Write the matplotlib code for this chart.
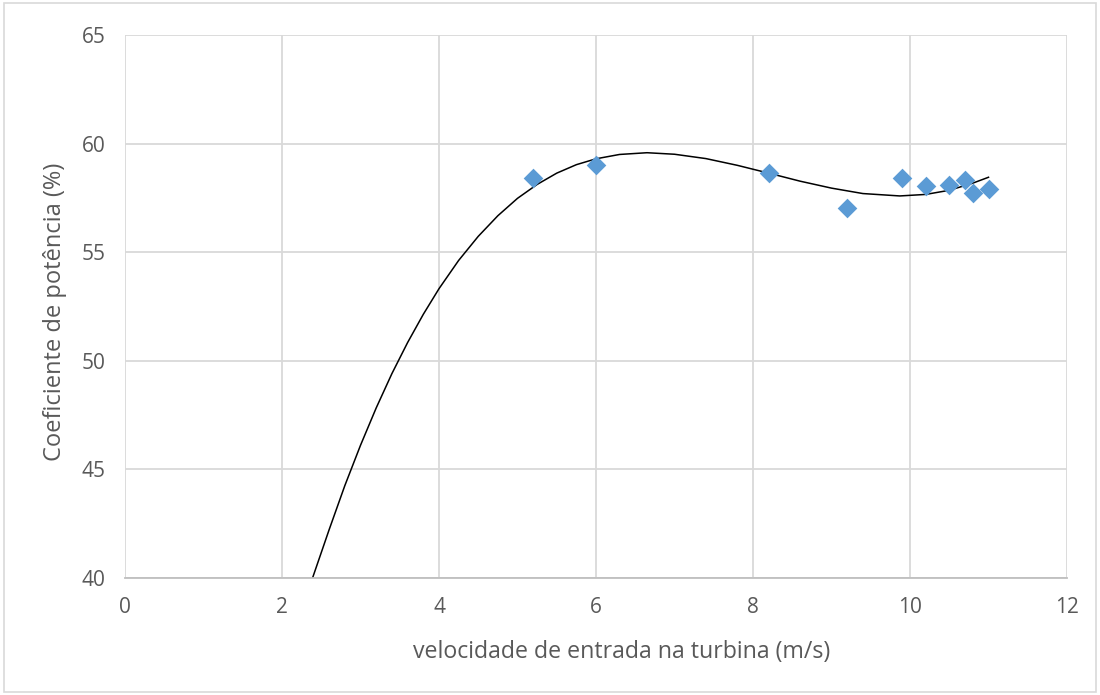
import matplotlib.pyplot as plt

# Dados
velocidade = [5.2, 6.0, 8.2, 9.2, 9.9, 10.2, 10.5, 10.7, 10.8, 11.0]
coef_potencia = [58.4, 59.0, 58.65, 57.03, 58.42, 58.05, 58.1, 58.32, 57.73, 57.9]

# Linha de tendência (polinomial do Excel), pontos lidos ao longo da curva
tend_x = [2.37, 2.6, 2.8, 3.0, 3.2, 3.4, 3.6, 3.8, 4.0, 4.25, 4.5, 4.75, 5.0,
          5.25, 5.5, 5.75, 6.0, 6.3, 6.65, 7.0, 7.4, 7.8, 8.2, 8.6, 9.0,
          9.4, 9.87, 10.2, 10.5, 10.8, 11.0]
tend_y = [39.8, 42.22, 44.25, 46.11, 47.83, 49.41, 50.84, 52.14, 53.32, 54.62, 55.73, 56.68, 57.48,
          58.12, 58.64, 59.03, 59.30, 59.50, 59.58, 59.51, 59.31, 59.00, 58.64, 58.27, 57.95,
          57.70, 57.59, 57.66, 57.85, 58.18, 58.45]

x_ticks = [0, 2, 4, 6, 8, 10, 12]
y_ticks = [40, 45, 50, 55, 60, 65]

plt.rcParams['font.family'] = ['Open Sans', 'DejaVu Sans']
cor_texto = '#595959'

fig = plt.figure(figsize=(11, 6.95), dpi=100)
ax = fig.add_axes([125 / 1100, 1 - 578 / 695, (1067 - 125) / 1100, (578 - 35) / 695])

ax.plot(tend_x, tend_y, color='black', lw=1.1, zorder=2)
ax.scatter(velocidade, coef_potencia, marker='D', s=100, color='#5B9BD5',
           linewidths=0, zorder=3)

ax.set_xlim(0, 12)
ax.set_ylim(40, 65)
ax.set_xticks(x_ticks)
ax.set_yticks(y_ticks)
ax.grid(True, color='#D9D9D9', lw=1.3)
ax.set_axisbelow(True)
for lado in ['top', 'right', 'left']:
    ax.spines[lado].set_visible(False)
ax.spines['bottom'].set_color('#BFBFBF')
ax.spines['bottom'].set_linewidth(1.3)
ax.tick_params(length=0, labelsize=15, colors=cor_texto, pad=14)

ax.set_xlabel('velocidade de entrada na turbina (m/s)', fontsize=16.7, color=cor_texto,
              va='center', ha='center')
ax.xaxis.set_label_coords(0.527, -0.136)
ax.set_ylabel('Coeficiente de potência (%)', fontsize=17, color=cor_texto,
              va='center', ha='center')
ax.yaxis.set_label_coords(-0.0743, 0.49)

# Borda da área do gráfico
fig.patches.append(plt.Rectangle((0.004, 0.004), 0.992, 0.992, transform=fig.transFigure,
                                 fill=False, edgecolor='#D9D9D9', lw=1.2))

fig.savefig('out.png', dpi=100)
